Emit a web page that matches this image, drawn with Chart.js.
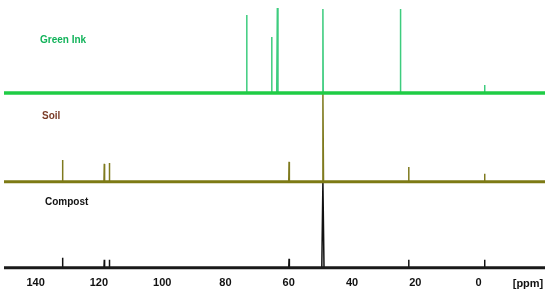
<!DOCTYPE html>
<html>
<head>
<meta charset="utf-8">
<script src="https://cdn.jsdelivr.net/npm/chart.js@4/dist/chart.umd.min.js"></script>
<style>
  html, body { margin: 0; padding: 0; background: #fff; }
  #wrap { width: 550px; height: 298px; }
</style>
</head>
<body>
<div id="wrap"><canvas id="nmr"></canvas></div>
<script>
// chemical shift axis (ppm)
const ppmTicks = [140, 120, 100, 80, 60, 40, 20, 0];
const samples = ["Green Ink", "Soil", "Compost"];

// peak positions (ppm) and heights (arbitrary intensity) per sample
const greenPeaksPpm = [73.3, 65.4, 63.6, 49.2, 24.7, -1.9];
const greenPeaksHeight = [78, 56, 85, 84, 84, 8];
const soilPeaksPpm = [131.5, 118.3, 116.7, 59.9, 49.2, 22.1, -1.9];
const soilPeaksHeight = [22, 18, 19, 20, 90, 15, 8];
const compostPeaksPpm = [131.5, 118.3, 116.7, 59.9, 49.2, 22.1, -1.9];
const compostPeaksHeight = [10, 8, 8, 9, 86, 8, 8];

const PPM_MIN = -21, PPM_MAX = 150;

// vertical offsets of the stacked spectra
const offsets = { green: 175, soil: 86, compost: 0 };

function baseline(off) {
    return [{ x: PPM_MAX, y: off }, { x: PPM_MIN, y: off }];
}

function peaks(ppm, heights, off, bigHalfWidth) {
    const big = Math.max(...heights);
    const pts = [];
    ppm.forEach((p, i) => {
        const hw = heights[i] === big ? bigHalfWidth : 0.1;
        pts.push({ x: p + hw, y: off });
        pts.push({ x: p, y: off + heights[i] });
        pts.push({ x: p - hw, y: off });
        pts.push({ x: p - hw, y: null });
    });
    return pts;
}

function line(data, color, width) {
    return {
        data: data,
        borderColor: color,
        backgroundColor: color,
        borderWidth: width,
        pointRadius: 0,
        tension: 0,
        spanGaps: false
    };
}

// sample names + [ppm] label
const labelsPlugin = {
    id: "sampleLabels",
    afterDatasetsDraw(chart) {
        const c = chart.ctx;
        c.save();
        c.font = "bold 10px 'Liberation Sans', Arial, sans-serif";
        c.textBaseline = "middle";
        c.textAlign = "left";
        const spots = [[40, 40, "#12b35a"], [42, 116, "#7a3b26"], [45, 202, "#111111"]];
        samples.forEach((s, i) => {
            c.fillStyle = spots[i][2];
            c.fillText(s, spots[i][0], spots[i][1]);
        });
        c.font = "bold 11px 'Liberation Sans', Arial, sans-serif";
        c.fillStyle = "#111";
        c.textAlign = "center";
        c.fillText("[ppm]", 528, 284);
        c.restore();
    }
};

new Chart(document.getElementById("nmr"), {
    type: "line",
    data: {
        datasets: [
            line(baseline(offsets.green), "#1fcc45", 3.5),
            line(peaks(greenPeaksPpm, greenPeaksHeight, offsets.green, 0.2), "#3dcc7e", 1.5),
            line(baseline(offsets.soil), "#7d7a14", 3),
            line(peaks(soilPeaksPpm, soilPeaksHeight, offsets.soil, 0.2), "#7f7a1e", 1.5),
            line(baseline(offsets.compost), "#1a1a1a", 3),
            line(peaks(compostPeaksPpm, compostPeaksHeight, offsets.compost, 0.35), "#111111", 1.5)
        ]
    },
    options: {
        responsive: true,
        maintainAspectRatio: false,
        animation: false,
        events: [],
        layout: { padding: { left: 4, right: 5, top: 0, bottom: 3 } },
        plugins: { legend: { display: false }, tooltip: { enabled: false } },
        scales: {
            x: {
                type: "linear",
                reverse: true,
                min: PPM_MIN,
                max: PPM_MAX,
                afterBuildTicks: axis => { axis.ticks = ppmTicks.map(v => ({ value: v })); },
                grid: { display: false, drawTicks: false, tickLength: 0 },
                border: { display: false },
                ticks: {
                    padding: 5,
                    color: "#111",
                    maxRotation: 0,
                    font: { family: "'Liberation Sans', Arial, sans-serif", size: 11, weight: "bold" }
                }
            },
            y: {
                display: false,
                min: -4,
                max: 268
            }
        }
    },
    plugins: [labelsPlugin]
});
</script>
</body>
</html>
